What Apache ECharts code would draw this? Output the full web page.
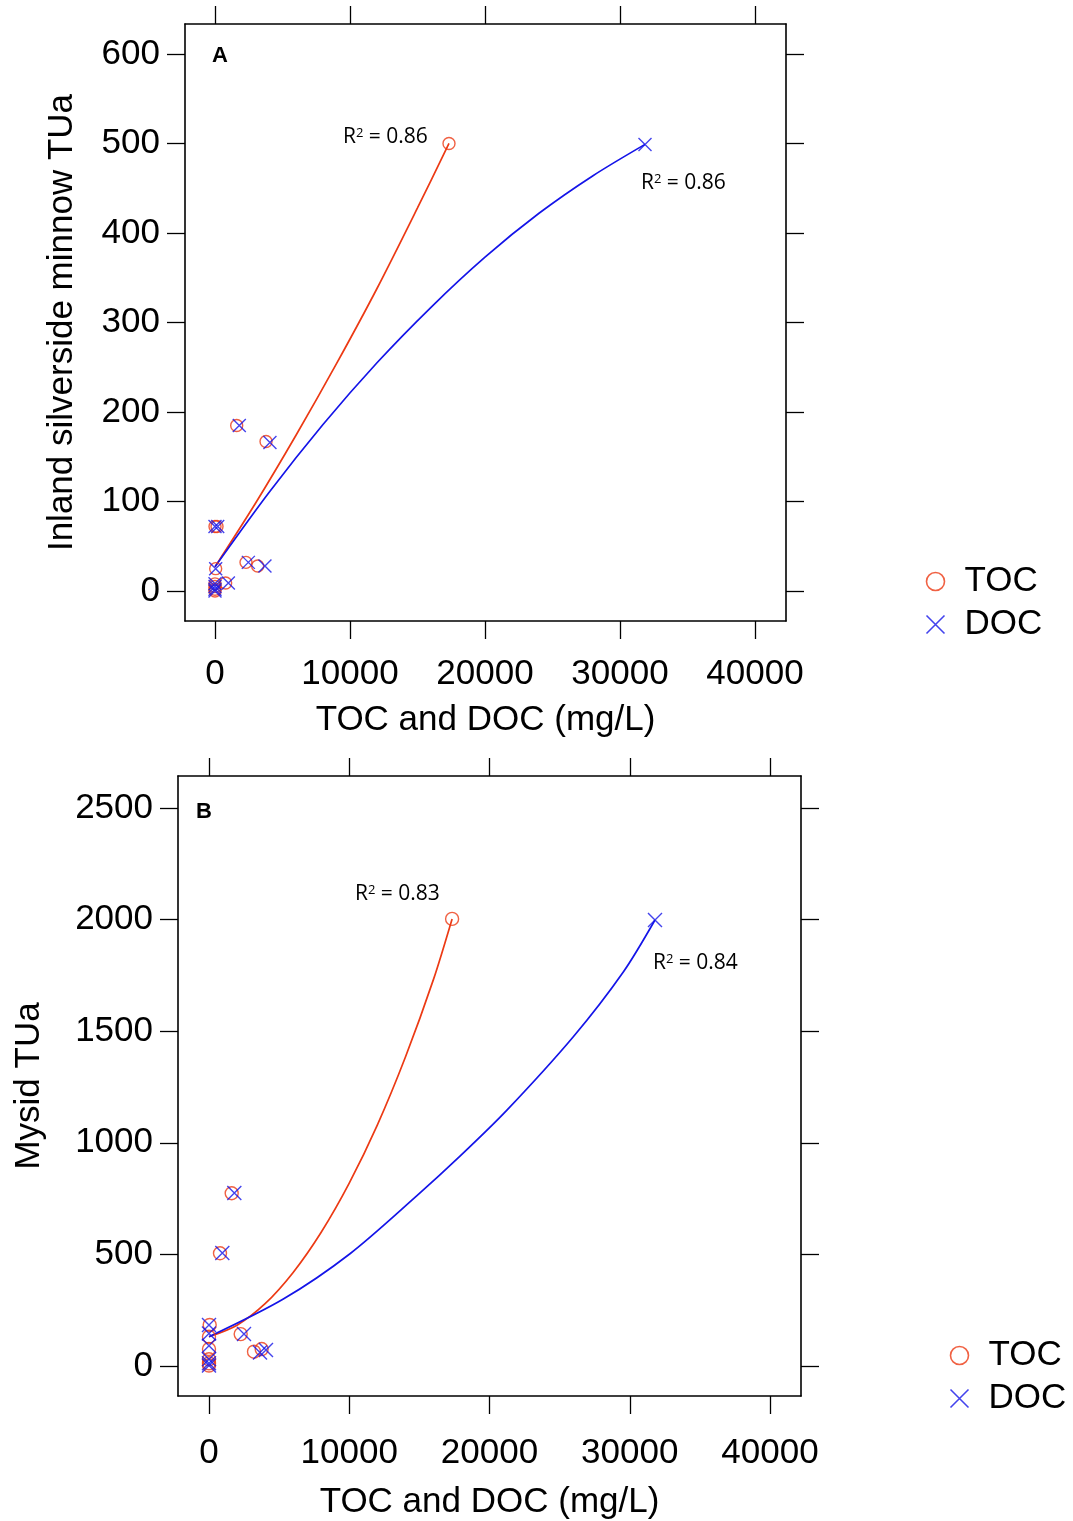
<!DOCTYPE html>
<html>
<head>
<meta charset="utf-8">
<script src="https://cdn.jsdelivr.net/npm/echarts@6/dist/echarts.min.js"></script>
<style>html,body{margin:0;padding:0;background:#fff;}#c{width:1073px;height:1521px;}</style>
</head>
<body>
<div id="c"></div>
<script>
// ---- data ----
const xTicks = [0, 10000, 20000, 30000, 40000];
const yTicksA = [0, 100, 200, 300, 400, 500, 600];
const yTicksB = [0, 500, 1000, 1500, 2000, 2500];

const tocA = [[17333,500],[1607,185],[3780,167],[0,72],[150,72],[50,25],[2296,32],[3160,28],[790,9],[0,8],[0,5],[0,2],[0,0]];
const docA = [[31852,499],[1800,185],[4070,166],[0,72],[200,72],[50,25],[2470,32],[3700,28],[990,9],[0,8],[0,5],[0,2],[0,0]];
const fitTocA = [[0,27],[3000,98],[6000,174],[9000,254],[12000,338],[15000,428],[17333,500]];
const fitDocA = [[0,27],[4000,110],[8000,186],[12000,255],[16000,317],[20000,373],[24000,422],[28000,464],[31852,499]];

const tocB = [[17333,2003],[1618,774],[784,505],[2259,143],[3209,64],[3755,76],[50,184],[0,131],[0,76],[0,30],[0,12],[0,2]];
const docB = [[31800,1998],[1806,775],[950,506],[2496,143],[3636,60],[4064,72],[0,184],[0,146],[0,91],[0,30],[0,12],[0,2]];
const fitTocB = [[0,131],[2000,183],[4000,279],[6000,419],[8000,599],[10000,819],[12000,1079],[14000,1383],[16000,1731],[17333,2003]];
const fitDocB = [[0,131],[5300,300],[10053,503],[14808,762],[17897,940],[21226,1145],[25976,1475],[29540,1765],[31800,1998]];

const r2Labels = ['0.86', '0.86', '0.83', '0.84'];
const xTitle = 'TOC and DOC (mg/L)';
const yTitleA = 'Inland silverside minnow TUa';
const yTitleB = 'Mysid TUa';

// ---- style ----
const RED = '#ec3a14';
const BLUE = '#1414e8';
const FONT = '"Liberation Sans", Arial, sans-serif';
const XSYM = 'path://M0,0L10,10M10,0L0,10';

function xAx(grid, min, max, pos, withLabels, gap, margin) {
  return {
    type: 'value', gridIndex: grid, min: min, max: max, position: pos,
    splitLine: {show: false},
    axisLine: {show: true, onZero: false, lineStyle: {color: '#000', width: 1.6}},
    axisTick: {show: true, inside: false, length: 18, customValues: xTicks, lineStyle: {color: '#000', width: 1.3}},
    axisLabel: {show: withLabels, customValues: xTicks, margin: margin || 30, fontSize: 35, color: '#000', fontFamily: FONT,
      formatter: function (v) { return String(v); }},
    name: withLabels ? xTitle : '', nameLocation: 'middle', nameGap: gap,
    nameTextStyle: {fontSize: 35, color: '#000', fontFamily: FONT}
  };
}
function yAx(grid, min, max, ticks, pos, withLabels, title, gap) {
  return {
    type: 'value', gridIndex: grid, min: min, max: max, position: pos,
    splitLine: {show: false},
    axisLine: {show: true, onZero: false, lineStyle: {color: '#000', width: 1.6}},
    axisTick: {show: true, inside: false, length: 18, customValues: ticks, lineStyle: {color: '#000', width: 1.3}},
    axisLabel: {show: withLabels, customValues: ticks, margin: 25, fontSize: 35, color: '#000', fontFamily: FONT,
      formatter: function (v) { return String(v); }},
    name: withLabels ? title : '', nameLocation: 'middle', nameGap: gap,
    nameTextStyle: {fontSize: 35, color: '#000', fontFamily: FONT}
  };
}
function scat(name, data, xi, yi, isX, size) {
  return {
    type: 'scatter', name: name, xAxisIndex: xi, yAxisIndex: yi, data: data,
    symbol: isX ? XSYM : 'circle', symbolSize: size,
    itemStyle: {color: 'none', borderColor: isX ? BLUE : RED, borderWidth: 1.4},
    emphasis: {disabled: true}, z: 3
  };
}
function fit(name, data, xi, yi, color) {
  return {
    type: 'line', name: name, xAxisIndex: xi, yAxisIndex: yi, data: data,
    showSymbol: false, smooth: 0.3,
    lineStyle: {color: color, width: 1.7}, emphasis: {disabled: true}, z: 2
  };
}
function r2(x, y, v) {
  return {
    type: 'text', x: x, y: y, z: 10,
    style: {
      text: '{r|R}{s|2}{r| = ' + v + '}',
      textVerticalAlign: 'middle', fill: '#000',
      rich: {
        r: {fontSize: 21, fontFamily: '"Open Sans", sans-serif', fill: '#000'},
        s: {fontSize: 13, fontFamily: '"Open Sans", sans-serif', verticalAlign: 'top', fill: '#000'}
      }
    }
  };
}
function legend(left, top) {
  return {
    orient: 'vertical', left: left, top: top, itemGap: 8, itemWidth: 18, itemHeight: 18,
    selectedMode: false,
    textStyle: {fontSize: 35, color: '#000', fontFamily: FONT, padding: [0, 0, 0, 15]},
    data: [
      {name: 'TOC', icon: 'circle', itemStyle: {color: 'none', borderColor: RED, borderWidth: 1.6}},
      {name: 'DOC', icon: XSYM, itemStyle: {color: 'none', borderColor: BLUE, borderWidth: 1.6}}
    ]
  };
}

const chart = echarts.init(document.getElementById('c'), null, {renderer: 'canvas'});
chart.setOption({
  animation: false,
  backgroundColor: '#fff',
  grid: [
    {left: 185, top: 24, width: 601, height: 597},
    {left: 178, top: 776, width: 623, height: 620}
  ],
  xAxis: [
    xAx(0, -2222, 42296, 'bottom', true, 82, 36),
    xAx(0, -2222, 42296, 'top', false, 0),
    xAx(1, -2210, 42210, 'bottom', true, 89, 40),
    xAx(1, -2210, 42210, 'top', false, 0)
  ],
  yAxis: [
    yAx(0, -33.5, 633.5, yTicksA, 'left', true, yTitleA, 105),
    yAx(0, -33.5, 633.5, yTicksA, 'right', false, '', 0),
    yAx(1, -134.4, 2643.3, yTicksB, 'left', true, yTitleB, 131),
    yAx(1, -134.4, 2643.3, yTicksB, 'right', false, '', 0)
  ],
  legend: [legend(919, 559), legend(943, 1333)],
  series: [
    fit('TOC fit A', fitTocA, 0, 0, RED),
    fit('DOC fit A', fitDocA, 0, 0, BLUE),
    scat('TOC', tocA, 0, 0, false, 12),
    scat('DOC', docA, 0, 0, true, 13),
    fit('TOC fit B', fitTocB, 2, 2, RED),
    fit('DOC fit B', fitDocB, 2, 2, BLUE),
    scat('TOC', tocB, 2, 2, false, 13),
    scat('DOC', docB, 2, 2, true, 14)
  ],
  graphic: [
    {type: 'text', x: 212, y: 56, style: {text: 'A', font: 'bold 22px ' + FONT, fill: '#000', textVerticalAlign: 'middle'}},
    {type: 'text', x: 196, y: 812, style: {text: 'B', font: 'bold 22px ' + FONT, fill: '#000', textVerticalAlign: 'middle'}},
    r2(343, 137, r2Labels[0]),
    r2(641, 183, r2Labels[1]),
    r2(355, 894, r2Labels[2]),
    r2(653, 963, r2Labels[3])
  ]
});
</script>
</body>
</html>
